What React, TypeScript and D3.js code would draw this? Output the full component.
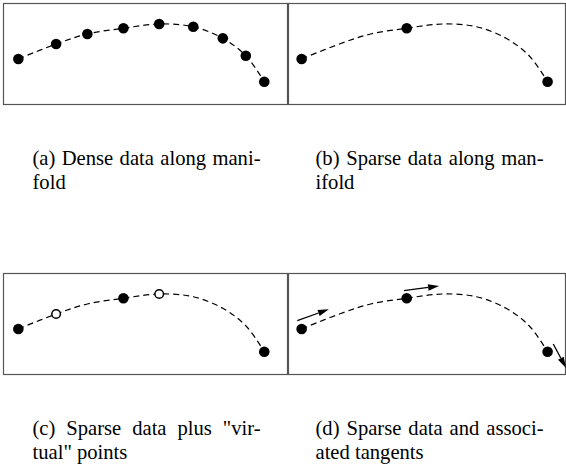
import React, { useLayoutEffect, useRef, useState } from "react";
import * as d3 from "d3";

// manifold samples (abstract units, 0..10)
const manifoldX = [0.54, 1.87, 2.97, 4.24, 5.5, 6.7, 7.74, 8.55, 9.2];
const manifoldY = [4.46, 5.94, 6.93, 7.5, 7.92, 7.65, 6.5, 4.78, 2.21];
const denseIdx = [0, 1, 2, 3, 4, 5, 6, 7, 8];
const sparseIdx = [0, 3, 8];
const virtualIdx = [1, 4];
// tangents at sparse points
const tangentFromX = [0.387, 4.14, 9.4];
const tangentFromY = [5.28, 8.25, 2.97];
const tangentToX = [1.5, 5.38, 9.85];
const tangentToY = [6.41, 8.71, 0.6];

const captionLine1 = [
  "(a) Dense data along mani-",
  "(b) Sparse data along man-",
  "(c) Sparse data plus \"vir-",
  "(d) Sparse data and associ-",
];
const captionLine2 = ["fold", "ifold", "tual\" points", "ated tangents"];

const W = 566;
const H = 465;
const PW = 284;
const PH = 101;
const FONT = "'Liberation Serif', 'Times New Roman', Times, serif";
const FS = 20.6;
const COLW = 228;

const xs = d3.scaleLinear().domain([0, 10]).range([0, PW]);
const ys = d3.scaleLinear().domain([0, 10]).range([PH, 0]);

const curvePts: [number, number][] = manifoldX.map((x, i) => [xs(x), ys(manifoldY[i])]);
const line = d3.line().curve(d3.curveCatmullRom.alpha(0.5));

function Justified({ x, y, text, width }: { x: number; y: number; text: string; width: number }) {
  const ref = useRef<SVGTextElement>(null);
  const [ws, setWs] = useState(0);
  useLayoutEffect(() => {
    if (!ref.current) return;
    const nat = ref.current.getComputedTextLength();
    const n = (text.match(/ /g) || []).length;
    if (n > 0) setWs((width - nat) / n);
  }, [text, width]);
  return (
    <text ref={ref} x={x} y={y} style={{ fontFamily: FONT, fontSize: FS, wordSpacing: ws }} fill="#000">
      {text}
    </text>
  );
}

function Arrow({ x1, y1, x2, y2 }: { x1: number; y1: number; x2: number; y2: number }) {
  const ang = Math.atan2(y2 - y1, x2 - x1);
  const L = 11;
  const Wd = 3.2;
  const bx = x2 - L * Math.cos(ang);
  const by = y2 - L * Math.sin(ang);
  const px = -Math.sin(ang) * Wd;
  const py = Math.cos(ang) * Wd;
  return (
    <g>
      <line x1={x1} y1={y1} x2={bx} y2={by} stroke="#000" strokeWidth={1.3} />
      <path d={`M${x2},${y2}L${bx + px},${by + py}L${bx - px},${by - py}Z`} fill="#000" />
    </g>
  );
}

function Panel({ ox, oy, fx, fw, kind }: { ox: number; oy: number; fx: number; fw: number; kind: string }) {
  return (
    <g>
      <rect x={fx + 0.5} y={oy + 0.5} width={fw} height={PH} fill="#fff" stroke="#555" strokeWidth={1.2} />
      <g transform={`translate(${ox},${oy})`}>
        <path d={line(curvePts) || ""} fill="none" stroke="#000" strokeWidth={1.2} strokeDasharray="6,4" />
        {(kind === "a" ? denseIdx : sparseIdx).map((i) => (
          <circle key={i} cx={xs(manifoldX[i])} cy={ys(manifoldY[i])} r={5.3} fill="#000" />
        ))}
        {kind === "c" &&
          virtualIdx.map((i) => (
            <circle key={"v" + i} cx={xs(manifoldX[i])} cy={ys(manifoldY[i])} r={4.3} fill="#fff" stroke="#000" strokeWidth={1.5} />
          ))}
        {kind === "d" &&
          tangentFromX.map((_, i) => (
            <Arrow key={"t" + i} x1={xs(tangentFromX[i])} y1={ys(tangentFromY[i])} x2={xs(tangentToX[i])} y2={ys(tangentToY[i])} />
          ))}
      </g>
    </g>
  );
}

export default function App() {
  return (
    <svg width={W} height={H} style={{ position: "absolute", left: 0, top: 0, background: "#fff", fontFamily: FONT }}>
      <rect width={W} height={H} fill="#fff" />
      <Panel ox={3} oy={3} fx={3} fw={284} kind="a" />
      <Panel ox={286.3} oy={3} fx={288} fw={277} kind="b" />
      <Panel ox={3} oy={273} fx={3} fw={284} kind="c" />
      <Panel ox={286.3} oy={273} fx={288} fw={277} kind="d" />
      {captionLine1.map((t, i) => {
        const x = i % 2 === 0 ? 32.5 : 315.5;
        const y = i < 2 ? 165 : 435;
        return (
          <g key={i}>
            <Justified x={x} y={y} text={t} width={COLW} />
            <text x={x} y={y + 24} style={{ fontFamily: FONT, fontSize: FS }} fill="#000">
              {captionLine2[i]}
            </text>
          </g>
        );
      })}
    </svg>
  );
}
